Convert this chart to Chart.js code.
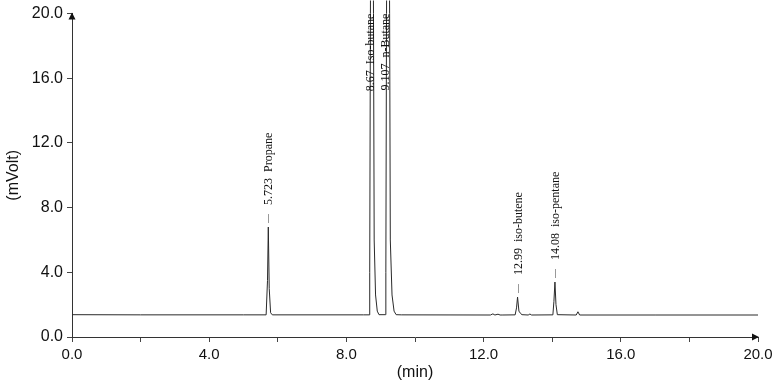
<!DOCTYPE html>
<html>
<head>
<meta charset="utf-8">
<script src="https://cdn.jsdelivr.net/npm/chart.js@4.4.0/dist/chart.umd.min.js"></script>
<style>
  html, body { margin: 0; padding: 0; background: #ffffff; }
  #wrap { width: 779px; height: 385px; position: relative; }
</style>
</head>
<body>
<div id="wrap"><canvas id="c" width="779" height="385"></canvas></div>
<script>
// ---- Data ----
const timeMin = [
  0, 2.0, 5.0, 5.66, 5.70, 5.723, 5.75, 5.79, 5.84,
  8.5, 8.66, 8.68, 8.70, 8.74, 8.79, 8.81, 8.85, 8.90, 8.95,
  9.13, 9.15, 9.17, 9.21, 9.26, 9.28, 9.33, 9.39, 9.45,
  9.6, 12.2, 12.27, 12.33, 12.42, 12.48, 12.54, 12.92, 12.96, 12.99, 13.03, 13.08, 13.12,
  13.30, 13.35, 13.40, 14.02, 14.05, 14.08, 14.11, 14.15,
  14.70, 14.75, 14.80, 17.0, 20.0
];
const signalMV = [
  1.38, 1.37, 1.37, 1.37, 3.5, 6.8, 3.0, 1.5, 1.37,
  1.37, 1.37, 4.0, 20, 45, 20, 6.0, 2.6, 1.6, 1.38,
  1.38, 4.0, 20, 45, 20, 6.0, 2.6, 1.6, 1.38,
  1.37, 1.36, 1.43, 1.36, 1.41, 1.36, 1.36, 1.37, 1.8, 2.47, 1.6, 1.45, 1.38,
  1.36, 1.42, 1.36, 1.37, 2.2, 3.4, 2.0, 1.38,
  1.36, 1.56, 1.36, 1.36, 1.36
];
const peakTimes = [5.723, 8.67, 9.107, 12.99, 14.08];
const peakLabels = ['5.723  Propane', '8.67  Iso-butane', '9.107  n-Butane', '12.99  iso-butene', '14.08  iso-pentane'];
const xTickValues = [0, 4, 8, 12, 16, 20];
const yTickValues = [0, 4, 8, 12, 16, 20];
const xTitle = '(min)';
const yTitle = '(mVolt)';

// ---- Plugins ----
const axisArrows = {
  id: 'axisArrows',
  afterDraw(chart) {
    const ctx = chart.ctx, a = chart.chartArea;
    ctx.save();
    ctx.fillStyle = '#111';
    // up arrow on y axis
    ctx.beginPath();
    ctx.moveTo(a.left, a.top - 1);
    ctx.lineTo(a.left - 3.5, a.top + 6);
    ctx.lineTo(a.left + 3.5, a.top + 6);
    ctx.closePath();
    ctx.fill();
    // right arrow on x axis
    ctx.beginPath();
    ctx.moveTo(a.right + 1, a.bottom);
    ctx.lineTo(a.right - 6, a.bottom - 3.5);
    ctx.lineTo(a.right - 6, a.bottom + 3.5);
    ctx.closePath();
    ctx.fill();
    ctx.restore();
  }
};

const peakNames = {
  id: 'peakNames',
  afterDatasetsDraw(chart) {
    const ctx = chart.ctx, a = chart.chartArea;
    const xs = chart.scales.x, ys = chart.scales.y;
    ctx.save();
    ctx.font = '12px "Liberation Serif", "DejaVu Serif", serif';
    ctx.fillStyle = '#111';
    ctx.textBaseline = 'middle';
    peakTimes.forEach((t, i) => {
      // apex from the trace near the labelled time
      let apex = 0;
      timeMin.forEach((tt, j) => { if (Math.abs(tt - t) < 0.2) apex = Math.max(apex, signalMV[j]); });
      const px = xs.getPixelForValue(t);
      ctx.save();
      ctx.translate(px + 1, 0);
      ctx.rotate(-Math.PI / 2);
      if (apex > ys.max) {
        ctx.textAlign = 'right';
        ctx.fillText(peakLabels[i], -a.top + 0, 0);
      } else {
        const py = ys.getPixelForValue(apex);
        ctx.textAlign = 'left';
        ctx.fillText(peakLabels[i], -(py - 22), 0);
        ctx.restore();
        ctx.save();
        ctx.strokeStyle = '#999';
        ctx.lineWidth = 1;
        ctx.beginPath();
        ctx.moveTo(Math.round(px) + 0.5, py - 4);
        ctx.lineTo(Math.round(px) + 0.5, py - 13);
        ctx.stroke();
      }
      ctx.restore();
    });
    ctx.restore();
  }
};

// ---- Chart ----
const points = timeMin.map((t, i) => ({ x: t, y: signalMV[i] }));

new Chart(document.getElementById('c'), {
  type: 'line',
  data: {
    datasets: [{
      data: points,
      borderColor: '#2a2a2a',
      borderWidth: 1,
      pointRadius: 0,
      tension: 0,
      fill: false,
      clip: { left: 0, top: 13, right: 0, bottom: 0 }
    }]
  },
  options: {
    responsive: false,
    animation: false,
    events: [],
    layout: { padding: { top: 13, right: 21, bottom: 0, left: 0 } },
    plugins: { legend: { display: false }, tooltip: { enabled: false } },
    scales: {
      x: {
        type: 'linear',
        min: 0, max: 20,
        afterBuildTicks(scale) {
          const t = [];
          for (let v = 0; v <= 20; v += 2) t.push({ value: v });
          scale.ticks = t;
        },
        afterFit(scale) { scale.height = 48; },
        grid: { drawOnChartArea: false, drawTicks: true, tickLength: 5, color: '#444', tickColor: '#444' },
        border: { display: true, color: '#333', width: 1 },
        ticks: {
          autoSkip: false, maxRotation: 0, padding: 4, color: '#111',
          font: { family: '"Liberation Sans", Arial, sans-serif', size: 15 },
          callback: (v) => xTickValues.includes(v) ? v.toFixed(1) : ''
        },
        title: {
          display: true, text: xTitle, color: '#111',
          font: { family: '"Liberation Sans", Arial, sans-serif', size: 16 },
          padding: { top: 0, bottom: 3 }
        }
      },
      y: {
        type: 'linear',
        min: 0, max: 20,
        afterBuildTicks(scale) { scale.ticks = yTickValues.map(v => ({ value: v })); },
        afterFit(scale) { scale.width = 72; },
        grid: { drawOnChartArea: false, drawTicks: true, tickLength: 5, color: '#444', tickColor: '#444' },
        border: { display: true, color: '#333', width: 1 },
        ticks: {
          padding: 4, color: '#111',
          font: { family: '"Liberation Sans", Arial, sans-serif', size: 16 },
          callback: (v) => v.toFixed(1)
        },
        title: {
          display: true, text: yTitle, color: '#111',
          font: { family: '"Liberation Sans", Arial, sans-serif', size: 16 },
          padding: { top: 4, bottom: 0 }
        }
      }
    }
  },
  plugins: [axisArrows, peakNames]
});
</script>
</body>
</html>
